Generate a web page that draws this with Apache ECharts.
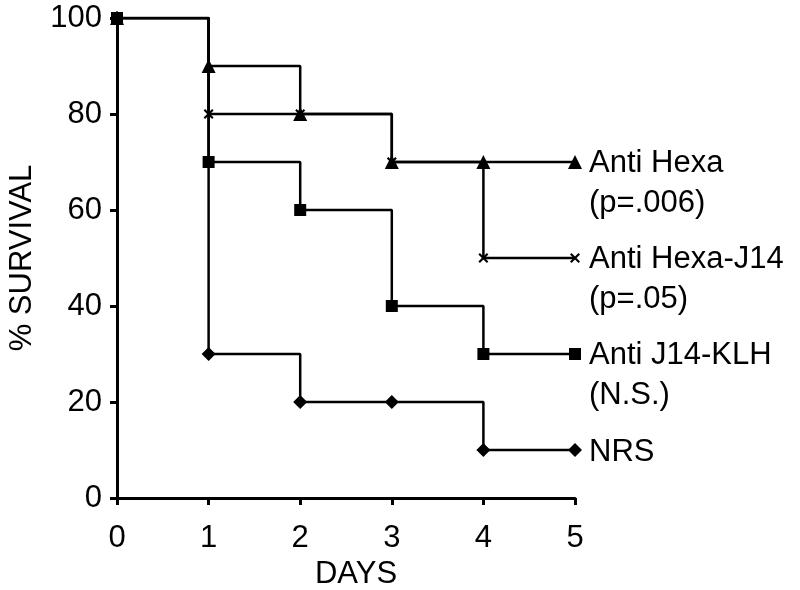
<!DOCTYPE html>
<html>
<head>
<meta charset="utf-8">
<script src="https://cdn.jsdelivr.net/npm/echarts@6/dist/echarts.min.js"></script>
<style>html,body{margin:0;padding:0;background:#fff}#c{width:800px;height:590px}</style>
</head>
<body>
<div id="c"></div>
<script>
const days = [0, 1, 2, 3, 4, 5];
const antiHexa = [100, 90, 80, 70, 70, 70];
const antiHexaJ14 = [100, 80, 80, 70, 50, 50];
const antiJ14KLH = [100, 70, 60, 40, 30, 30];
const nrs = [100, 30, 20, 20, 10, 10];
const labels = {
  nrs: 'NRS',
  hexa: 'Anti Hexa\n(p=.006)',
  hexaJ14: 'Anti Hexa-J14\n(p=.05)',
  klh: 'Anti J14-KLH\n(N.S.)'
};
const yTicks = [0, 20, 40, 60, 80, 100];

const FONT = '"Liberation Sans", Arial, sans-serif';
const crossPath = 'path://M0,1.5L1.5,0L5,3.5L8.5,0L10,1.5L6.5,5L10,8.5L8.5,10L5,6.5L1.5,10L0,8.5L3.5,5Z';

function mk(name, vals, symbol, size, label) {
  return {
    name: name,
    type: 'line',
    step: 'end',
    data: days.map((d, i) => [d, vals[i]]),
    symbol: symbol,
    symbolSize: size,
    lineStyle: { color: '#000', width: 2.5 },
    itemStyle: { color: '#000' },
    endLabel: {
      show: true,
      formatter: label,
      color: '#000',
      fontFamily: FONT,
      fontSize: 31,
      lineHeight: 40,
      distance: 14,
      align: 'left',
      offset: [0, label.indexOf('\n') >= 0 ? 21 : 2]
    },
    emphasis: { disabled: true }
  };
}

const chart = echarts.init(document.getElementById('c'), null, { renderer: 'canvas' });
chart.setOption({
  animation: false,
  backgroundColor: '#fff',
  grid: { left: 117, right: 225, top: 18, bottom: 92, containLabel: false, outerBoundsMode: 'none' },
  xAxis: {
    type: 'value', min: 0, max: 5, interval: 1,
    name: 'DAYS', nameLocation: 'middle', nameGap: 61,
    nameTextStyle: { color: '#000', fontFamily: FONT, fontSize: 31, padding: [0, 0, 0, 20] },
    axisLine: { show: true, lineStyle: { color: '#000', width: 3 } },
    axisTick: { show: true, length: 7, lineStyle: { color: '#000', width: 3 } },
    axisLabel: { color: '#000', fontFamily: FONT, fontSize: 31, margin: 25 },
    splitLine: { show: false }
  },
  yAxis: {
    type: 'value', min: 0, max: 100, interval: 20,
    name: '% SURVIVAL', nameLocation: 'middle', nameGap: 79, nameRotate: 90,
    nameTextStyle: { color: '#000', fontFamily: FONT, fontSize: 31 },
    axisLine: { show: true, lineStyle: { color: '#000', width: 3 } },
    axisTick: { show: true, length: 7, lineStyle: { color: '#000', width: 3 } },
    axisLabel: { color: '#000', fontFamily: FONT, fontSize: 31, margin: 15,
      formatter: v => yTicks.includes(v) ? String(v) : '' },
    splitLine: { show: false }
  },
  series: [
    mk('NRS', nrs, 'diamond', 14, labels.nrs),
    mk('Anti Hexa', antiHexa, 'triangle', 14, labels.hexa),
    mk('Anti Hexa-J14', antiHexaJ14, crossPath, 10, labels.hexaJ14),
    mk('Anti J14-KLH', antiJ14KLH, 'rect', 12, labels.klh)
  ]
});
</script>
</body>
</html>
